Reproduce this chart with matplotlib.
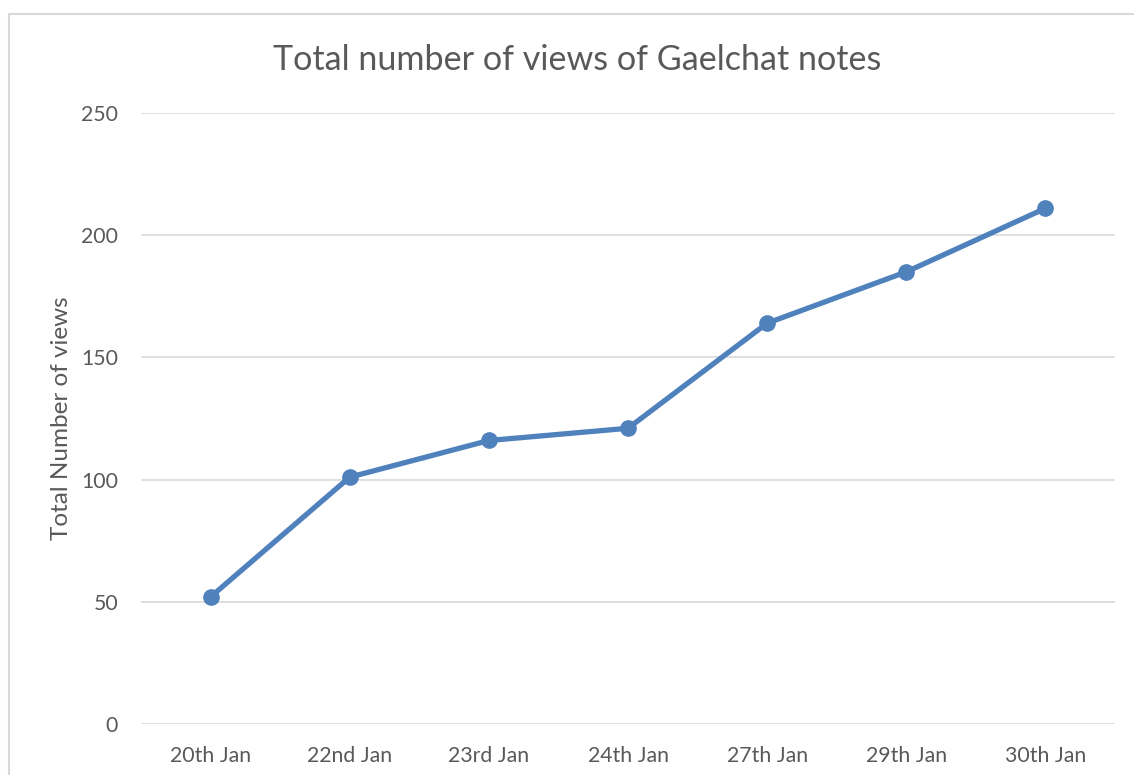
import matplotlib.pyplot as plt
from matplotlib.patches import Rectangle

dates = ['20th Jan', '22nd Jan', '23rd Jan', '24th Jan', '27th Jan', '29th Jan', '30th Jan']
views = [52, 101, 116, 121, 164, 185, 211]
yticks = [0, 50, 100, 150, 200, 250]

plt.rcParams['font.family'] = ['Lato', 'DejaVu Sans']
grey = '#595959'

fig = plt.figure(figsize=(11.34, 7.75), dpi=100)
ax = fig.add_axes([141/1134, 1-724/775, (1115-141)/1134, (724-113)/775])

# chart border (cropped on right and bottom like the original)
fig.patches.append(Rectangle((9/1134, -0.05), 1.2, 1-14/775+0.05, transform=fig.transFigure,
                             fill=False, edgecolor='#D9D9D9', linewidth=1.5))

x = range(len(dates))
ax.plot(x, views, color='#4F81BD', linewidth=3.8, marker='o', markersize=11, zorder=3)

ax.set_xlim(-0.5, len(dates)-0.5)
ax.set_ylim(0, 250)
ax.set_yticks(yticks)
ax.set_xticks(list(x))
ax.set_xticklabels(dates)
ax.grid(axis='y', color='#D9D9D9', linewidth=1.2)
ax.set_axisbelow(True)
for s in ax.spines.values():
    s.set_visible(False)
ax.tick_params(length=0, labelsize=15.3, colors=grey)
ax.tick_params(axis='x', pad=15.5)
ax.tick_params(axis='y', pad=16.5)

fig.text(61/1134, 1-418/775, 'Total Number of views', rotation=90, ha='center', va='center',
         fontsize=17.5, color=grey)
fig.text(577/1134, 1-60/775, 'Total number of views of Gaelchat notes', ha='center', va='center',
         fontsize=24.6, color=grey)

fig.savefig('out.png', dpi=100)
